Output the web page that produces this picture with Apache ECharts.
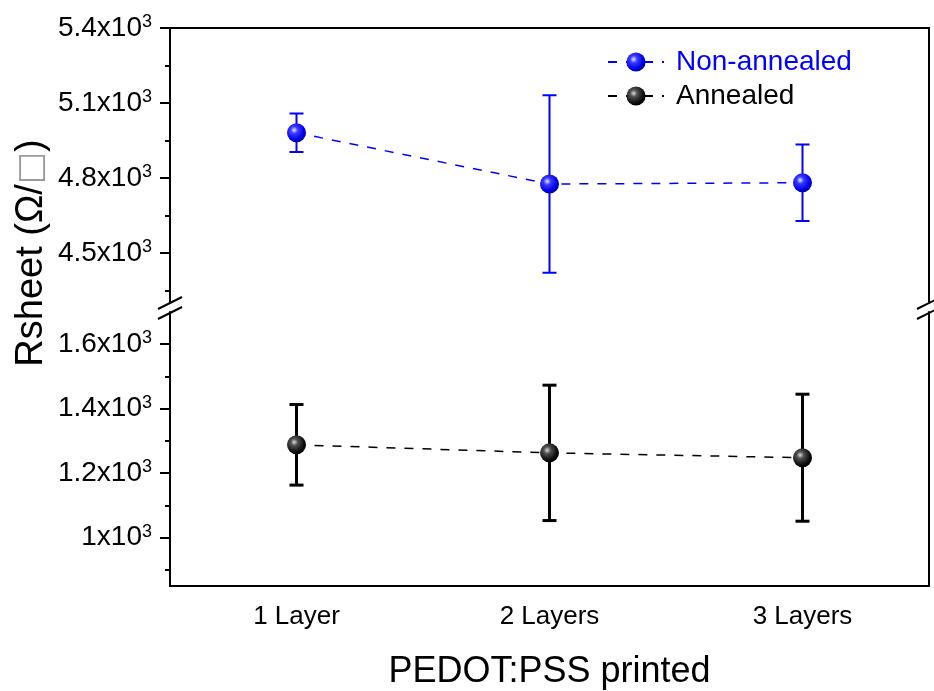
<!DOCTYPE html>
<html><head><meta charset="utf-8">
<script src="https://cdn.jsdelivr.net/npm/echarts@6/dist/echarts.min.js"></script>
<style>html,body{margin:0;padding:0;background:#fff}#c{width:934px;height:691px}</style>
</head><body><div id="c"></div>
<script>
const categories = ['1 Layer', '2 Layers', '3 Layers'];
const nonAnnealedMean = [4981, 4776, 4781];
const nonAnnealedErr = [77, 355, 153];
const annealedMean = [1288, 1263, 1248];
const annealedErr = [125, 210, 197];
const upperTicks = [4500, 4800, 5100, 5400];
const upperMinorTicks = [4350, 4650, 4950, 5250];
const lowerTicks = [1000, 1200, 1400, 1600];
const lowerMinorTicks = [900, 1100, 1300, 1500];
const upperRange = [4300, 5400];
const lowerRange = [850, 1700];

const FONT = 'Liberation Sans';
const L = 170, R = 929;
const G0 = {top: 28, height: 275};
const G1 = {top: 312, height: 274};

const blueGrad = {type: 'radial', x: 0.38, y: 0.36, r: 0.62, colorStops: [
  {offset: 0, color: '#e8e8ff'}, {offset: 0.3, color: '#3c3cff'}, {offset: 0.8, color: '#0000f0'}, {offset: 1, color: '#0000a8'}]};
const blackGrad = {type: 'radial', x: 0.38, y: 0.36, r: 0.62, colorStops: [
  {offset: 0, color: '#d8d8d8'}, {offset: 0.3, color: '#505050'}, {offset: 0.8, color: '#101010'}, {offset: 1, color: '#000000'}]};

function fmt(v) { return '{b|' + (v / 1000) + 'x10}{s|3}'; }
const labelRich = {
  b: {fontSize: 28, fontFamily: FONT, color: '#000'},
  s: {fontSize: 18, fontFamily: FONT, color: '#000', padding: [0, 0, 12, 0]}
};
const axLine = {show: true, onZero: false, lineStyle: {color: '#000', width: 2}};

function yAxes(grid, range, major, minor) {
  return [
    {gridIndex: grid, type: 'value', position: 'left', min: range[0], max: range[1],
     axisLine: axLine, splitLine: {show: false},
     axisTick: {show: true, customValues: major, length: 10, lineStyle: {color: '#000', width: 2}},
     axisLabel: {show: true, customValues: major, margin: 18, formatter: fmt, rich: labelRich}},
    {gridIndex: grid, type: 'value', position: 'left', min: range[0], max: range[1],
     axisLine: {show: false}, splitLine: {show: false},
     axisTick: {show: true, customValues: minor, length: 5, lineStyle: {color: '#000', width: 2}},
     axisLabel: {show: false}},
    {gridIndex: grid, type: 'value', position: 'right', min: range[0], max: range[1],
     axisLine: axLine, splitLine: {show: false}, axisTick: {show: false}, axisLabel: {show: false}}
  ];
}

function errRender(color, w) {
  return function (params, api) {
    const x = api.value(0);
    const lo = api.coord([x, api.value(1)]);
    const hi = api.coord([x, api.value(2)]);
    const hw = 7;
    const st = {stroke: color, lineWidth: w};
    return {type: 'group', children: [
      {type: 'line', shape: {x1: lo[0], y1: lo[1], x2: hi[0], y2: hi[1]}, style: st},
      {type: 'line', shape: {x1: lo[0] - hw, y1: lo[1], x2: lo[0] + hw, y2: lo[1]}, style: st},
      {type: 'line', shape: {x1: hi[0] - hw, y1: hi[1], x2: hi[0] + hw, y2: hi[1]}, style: st}
    ]};
  };
}

const chart = echarts.init(document.getElementById('c'), null, {renderer: 'canvas'});
chart.setOption({
  backgroundColor: '#fff',
  animation: false,
  textStyle: {fontFamily: FONT},
  grid: [
    {left: L, right: 934 - R, top: G0.top, height: G0.height},
    {left: L, right: 934 - R, top: G1.top, height: G1.height}
  ],
  xAxis: [
    {gridIndex: 0, type: 'category', position: 'top', data: categories, boundaryGap: true,
     axisLine: axLine, axisTick: {alignWithLabel: true, inside: true, length: 10, lineStyle: {color: '#000', width: 2}},
     axisLabel: {show: false}, splitLine: {show: false}},
    {gridIndex: 0, type: 'category', position: 'top', data: categories, boundaryGap: true,
     axisLine: {show: false, onZero: false}, axisTick: {inside: true, length: 5, lineStyle: {color: '#000', width: 2}},
     axisLabel: {show: false}, splitLine: {show: false}},
    {gridIndex: 1, type: 'category', position: 'bottom', data: categories, boundaryGap: true,
     axisLine: axLine, axisTick: {alignWithLabel: true, length: 10, lineStyle: {color: '#000', width: 2}},
     axisLabel: {fontSize: 26, fontFamily: FONT, color: '#000', margin: 18},
     name: 'PEDOT:PSS printed', nameLocation: 'middle', nameGap: 68,
     nameTextStyle: {fontSize: 36, fontFamily: FONT, color: '#000'}, splitLine: {show: false}},
    {gridIndex: 1, type: 'category', position: 'bottom', data: categories, boundaryGap: true,
     axisLine: {show: false, onZero: false}, axisTick: {length: 5, lineStyle: {color: '#000', width: 2}},
     axisLabel: {show: false}, splitLine: {show: false}}
  ],
  yAxis: [].concat(yAxes(0, upperRange, upperTicks, upperMinorTicks), yAxes(1, lowerRange, lowerTicks, lowerMinorTicks)),
  legend: {
    orient: 'vertical', left: 602, top: 43, itemWidth: 56, itemHeight: 24, itemGap: 6,
    textStyle: {fontSize: 28, fontFamily: FONT, color: '#000', padding: [0, 0, 0, 7]},
    data: [{name: 'Non-annealed', textStyle: {color: '#0000ff'}}, {name: 'Annealed', textStyle: {color: '#000'}}]
  },
  series: [
    {type: 'custom', xAxisIndex: 0, yAxisIndex: 0, z: 3, silent: true,
     encode: {x: 0, y: [1, 2]}, renderItem: errRender('#0000ff', 2),
     data: nonAnnealedMean.map((m, i) => [i, m - nonAnnealedErr[i], m + nonAnnealedErr[i]])},
    {name: 'Non-annealed', type: 'line', xAxisIndex: 0, yAxisIndex: 0, z: 5,
     data: nonAnnealedMean, symbol: 'circle', symbolSize: 19,
     itemStyle: {color: blueGrad, borderWidth: 0},
     lineStyle: {color: '#0000ff', width: 1.5, type: [9, 9]}},
    {type: 'custom', xAxisIndex: 2, yAxisIndex: 3, z: 3, silent: true,
     encode: {x: 0, y: [1, 2]}, renderItem: errRender('#000000', 3),
     data: annealedMean.map((m, i) => [i, m - annealedErr[i], m + annealedErr[i]])},
    {name: 'Annealed', type: 'line', xAxisIndex: 2, yAxisIndex: 3, z: 5,
     data: annealedMean, symbol: 'circle', symbolSize: 19,
     itemStyle: {color: blackGrad, borderWidth: 0},
     lineStyle: {color: '#000000', width: 1.5, type: [9, 9]}}
  ],
  graphic: [
    {type: 'line', shape: {x1: L - 12, y1: 309, x2: L + 12, y2: 297}, style: {stroke: '#000', lineWidth: 2}},
    {type: 'line', shape: {x1: L - 12, y1: 319, x2: L + 12, y2: 307}, style: {stroke: '#000', lineWidth: 2}},
    {type: 'line', shape: {x1: R - 12, y1: 309, x2: R + 12, y2: 297}, style: {stroke: '#000', lineWidth: 2}},
    {type: 'line', shape: {x1: R - 12, y1: 319, x2: R + 12, y2: 307}, style: {stroke: '#000', lineWidth: 2}},
    {type: 'text', x: 32, y: 253, rotation: Math.PI / 2,
     style: {text: 'Rsheet (Ω/{g|□})', fontSize: 38, fontFamily: FONT, fill: '#000',
             align: 'center', verticalAlign: 'middle',
             rich: {g: {fontSize: 34, fontFamily: 'DejaVu Sans', fill: '#9a9a9a'}}}}
  ]
});
</script>
</body></html>
